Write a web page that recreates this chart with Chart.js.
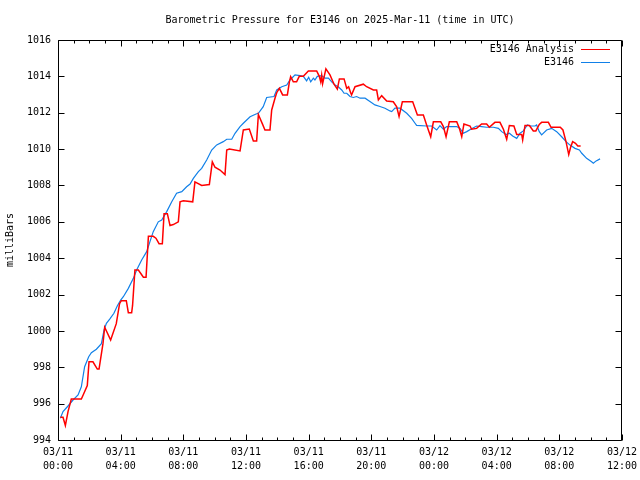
<!DOCTYPE html>
<html>
<head>
<meta charset="utf-8">
<script src="https://cdn.jsdelivr.net/npm/chart.js@4/dist/chart.umd.min.js"></script>
<style>
html,body{margin:0;padding:0;background:#fff;}
#wrap{width:640px;height:480px;position:relative;}
</style>
</head>
<body>
<div id="wrap"><canvas id="c" width="640" height="480"></canvas></div>
<script>
// ---- text ----
const titleText = 'Barometric Pressure for E3146 on 2025-Mar-11 (time in UTC)';
const yAxisLabel = 'milliBars';
const seriesNames = ['E3146 Analysis', 'E3146'];

// ---- axes ----
const xTickLabels = [
  ['03/11','00:00'], ['03/11','04:00'], ['03/11','08:00'], ['03/11','12:00'],
  ['03/11','16:00'], ['03/11','20:00'], ['03/12','00:00'], ['03/12','04:00'],
  ['03/12','08:00'], ['03/12','12:00']
];
const xRangeHours = [0, 36];
const yRange = [994, 1016];

// ---- series: hours since 03/11 00:00 UTC, pressure in mb ----
const analysisHours = [
  0.15,0.32,0.47,0.64,0.85,1.49,1.62,1.87,1.98,2.23,2.51,2.62,2.87,2.98,3.36,3.72,3.93,4.04,4.36,4.49,
  4.70,4.76,4.91,5.13,5.45,5.62,5.77,6.08,6.25,6.45,6.66,6.77,6.98,7.15,7.36,7.68,7.79,8.00,8.60,8.74,
  9.17,9.66,9.85,10.02,10.34,10.66,10.77,10.94,11.62,11.83,12.21,12.47,12.68,12.79,13.04,13.21,13.53,13.64,13.85,13.96,
  14.13,14.34,14.64,14.77,14.85,15.02,15.23,15.40,15.66,15.98,16.51,16.68,16.77,16.83,16.89,17.10,17.36,17.62,17.83,17.96,
  18.26,18.43,18.55,18.68,18.74,18.96,19.49,19.70,20.13,20.34,20.45,20.66,20.98,21.40,21.62,21.77,21.98,22.64,22.94,23.32,
  23.53,23.79,23.96,24.43,24.60,24.77,24.98,25.45,25.62,25.77,25.91,26.30,26.40,26.72,27.04,27.36,27.53,27.89,28.21,28.43,
  28.64,28.81,29.10,29.28,29.60,29.66,29.81,30.09,30.34,30.50,30.72,30.87,31.30,31.47,32.06,32.23,32.43,32.60,32.72,32.85,
  33.03,33.18,33.36
];
const analysisValues = [
  995.25,995.25,994.80,995.56,996.25,996.25,996.50,997.00,998.30,998.30,997.90,997.90,999.30,1000.20,999.50,1000.40,1001.50,1001.66,1001.66,1001.00,
  1001.00,1001.40,1003.35,1003.35,1002.95,1002.95,1005.20,1005.20,1005.10,1004.80,1004.80,1006.45,1006.45,1005.80,1005.85,1006.00,1007.10,1007.16,1007.10,1008.20,
  1008.00,1008.05,1009.30,1009.00,1008.85,1008.60,1009.95,1010.00,1009.90,1011.05,1011.10,1010.45,1010.45,1011.90,1011.40,1011.05,1011.05,1012.15,1012.80,1013.10,
  1013.34,1012.98,1012.98,1013.70,1013.98,1013.70,1013.70,1014.00,1014.00,1014.30,1014.30,1014.00,1013.70,1014.06,1013.60,1014.41,1014.08,1013.57,1013.30,1013.86,
  1013.86,1013.34,1013.43,1013.10,1012.98,1013.43,1013.57,1013.43,1013.25,1013.25,1012.70,1012.94,1012.64,1012.60,1012.33,1011.80,1012.60,1012.60,1011.88,1011.88,
  1011.33,1010.68,1011.50,1011.50,1011.24,1010.68,1011.50,1011.50,1011.14,1010.68,1011.38,1011.27,1011.09,1011.14,1011.38,1011.38,1011.20,1011.47,1011.47,1011.09,
  1010.54,1011.30,1011.27,1010.80,1010.80,1010.50,1011.30,1011.30,1011.00,1011.00,1011.36,1011.47,1011.47,1011.20,1011.20,1011.05,1010.40,1009.70,1010.10,1010.41,
  1010.32,1010.17,1010.17
];

const stationHours = [
  0.15,0.32,0.64,0.96,1.28,1.49,1.70,1.96,2.13,2.45,2.77,2.94,3.09,3.30,3.57,3.79,4.00,4.17,4.49,4.81,
  5.02,5.34,5.66,5.87,6.08,6.40,6.62,6.94,7.26,7.57,7.90,8.21,8.43,8.64,8.96,9.17,9.49,9.81,10.13,10.55,
  10.77,11.09,11.30,11.62,11.83,12.26,12.64,12.79,13.10,13.32,13.79,13.96,14.28,14.60,14.81,15.13,15.45,15.66,15.87,16.00,
  16.13,16.30,16.40,16.55,16.83,17.04,17.26,17.47,17.68,17.89,18.11,18.26,18.43,18.64,18.85,19.06,19.28,19.60,19.91,20.23,
  20.55,20.87,21.19,21.30,21.51,21.83,22.26,22.57,22.79,22.89,23.53,23.85,24.17,24.38,24.60,24.81,25.45,25.66,25.87,26.09,
  26.40,26.72,27.04,27.36,27.79,28.11,28.32,28.60,28.81,29.02,29.28,29.49,29.70,29.96,30.17,30.45,30.55,30.72,30.87,31.19,
  31.51,31.83,32.15,32.43,32.68,33.00,33.28,33.43,33.74,34.06,34.17,34.35,34.60
];
const stationValues = [
  995.20,995.56,995.87,996.20,996.48,996.93,998.03,998.58,998.80,998.99,999.30,1000.05,1000.42,1000.65,1000.97,1001.38,1001.70,1001.88,1002.34,1002.89,
  1003.35,1003.90,1004.36,1004.91,1005.46,1006.00,1006.10,1006.56,1007.10,1007.57,1007.66,1007.93,1008.08,1008.39,1008.76,1008.94,1009.40,1009.95,1010.23,1010.41,
  1010.54,1010.54,1010.87,1011.24,1011.42,1011.78,1011.93,1011.97,1012.33,1012.84,1012.89,1013.25,1013.43,1013.52,1013.80,1014.08,1014.04,1014.00,1013.75,1013.95,
  1013.70,1013.90,1013.80,1014.00,1014.04,1013.90,1013.90,1013.70,1013.52,1013.43,1013.25,1013.07,1013.07,1012.89,1012.84,1012.89,1012.80,1012.80,1012.62,1012.43,
  1012.34,1012.25,1012.10,1012.06,1012.25,1012.25,1011.97,1011.69,1011.42,1011.30,1011.27,1011.27,1011.05,1011.29,1011.10,1011.24,1011.24,1011.14,1010.87,1010.96,
  1011.12,1011.27,1011.24,1011.20,1011.20,1011.14,1010.96,1010.80,1010.87,1010.72,1010.59,1010.87,1011.00,1011.33,1011.27,1011.27,1011.33,1010.96,1010.78,1011.05,
  1011.14,1010.96,1010.68,1010.41,1010.22,1010.04,1009.95,1009.77,1009.49,1009.30,1009.22,1009.35,1009.46
];

const FONT = "'DejaVu Sans Mono', 'Liberation Mono', monospace";

function toPoints(xs, ys) { return xs.map((h, i) => ({ x: h, y: ys[i] })); }

// gnuplot-style frame with inward ticks (positions from the chart's scales)
const gnuFrame = {
  id: 'gnuFrame',
  afterDatasetsDraw(chart) {
    const { ctx, chartArea: a, scales: { x, y } } = chart;
    const L = Math.round(a.left) + 0.5, R = Math.round(a.right) - 0.5;
    const T = Math.round(a.top) + 0.5, B = Math.round(a.bottom) + 0.5;
    ctx.save();
    ctx.strokeStyle = '#000';
    ctx.lineWidth = 1;
    ctx.beginPath();
    ctx.rect(L, T, R - L, B - T);
    // y ticks (major only)
    y.ticks.forEach(t => {
      const py = Math.round(y.getPixelForValue(t.value)) + 0.5;
      ctx.moveTo(L, py); ctx.lineTo(L + 6, py);
      ctx.moveTo(R, py); ctx.lineTo(R - 6, py);
    });
    // x ticks: major every 4h, minor every hour
    for (let h = xRangeHours[0]; h <= xRangeHours[1]; h++) {
      const len = (h % 4 === 0) ? 6 : 3;
      const px = Math.round(x.getPixelForValue(h)) + 0.5;
      ctx.moveTo(px, B); ctx.lineTo(px, B - len);
      ctx.moveTo(px, T); ctx.lineTo(px, T + len);
    }
    ctx.stroke();
    ctx.restore();
  },
  afterDraw(chart) {
    const { ctx, chartArea: a } = chart;
    ctx.save();
    ctx.font = '10px ' + FONT;
    ctx.textAlign = 'right';
    ctx.textBaseline = 'middle';
    chart.data.datasets.forEach((ds, i) => {
      const yy = Math.round(a.top + 9 + i * 13) + 0.5;
      ctx.fillStyle = '#000';
      ctx.fillText(ds.label, a.right - 48, yy);
      ctx.strokeStyle = ds.borderColor;
      ctx.lineWidth = 1;
      ctx.beginPath();
      ctx.moveTo(a.right - 41, yy);
      ctx.lineTo(a.right - 12, yy);
      ctx.stroke();
    });
    ctx.restore();
  }
};

new Chart(document.getElementById('c'), {
  type: 'line',
  data: {
    datasets: [
      {
        label: seriesNames[0],
        data: toPoints(analysisHours, analysisValues),
        borderColor: '#ff0000',
        borderWidth: 1.5,
        pointRadius: 0,
        tension: 0,
        fill: false
      },
      {
        label: seriesNames[1],
        data: toPoints(stationHours, stationValues),
        borderColor: '#1180e8',
        borderWidth: 1.2,
        pointRadius: 0,
        tension: 0,
        fill: false
      }
    ]
  },
  options: {
    responsive: false,
    animation: false,
    devicePixelRatio: 1,
    layout: { padding: { left: 0, right: 18, top: 0, bottom: 0 } },
    plugins: {
      legend: { display: false },
      tooltip: { enabled: false },
      title: {
        display: true,
        text: titleText,
        fullSize: false,
        color: '#000',
        font: { family: FONT, size: 10, weight: 'normal', lineHeight: 1.2 },
        padding: { top: 14, bottom: 14 }
      }
    },
    scales: {
      x: {
        type: 'linear',
        min: xRangeHours[0],
        max: xRangeHours[1],
        grid: { display: false, drawTicks: false },
        border: { display: false },
        afterFit(scale) { scale.height = 40; scale.paddingLeft = 0; scale.paddingRight = 0; },
        ticks: {
          stepSize: 4,
          autoSkip: false,
          maxRotation: 0,
          minRotation: 0,
          padding: 5,
          color: '#000',
          font: { family: FONT, size: 10, lineHeight: 1.4 },
          callback: (v, i) => xTickLabels[i]
        }
      },
      y: {
        type: 'linear',
        min: yRange[0],
        max: yRange[1],
        grid: { display: false, drawTicks: false },
        border: { display: false },
        afterFit(scale) { scale.width = 58; },
        title: {
          display: true,
          text: yAxisLabel,
          color: '#000',
          font: { family: FONT, size: 10, lineHeight: 1.2 },
          padding: { top: 4, bottom: 0 }
        },
        ticks: {
          stepSize: 2,
          padding: 7,
          color: '#000',
          font: { family: FONT, size: 10 },
          callback: v => String(v)
        }
      }
    }
  },
  plugins: [gnuFrame]
});
</script>
</body>
</html>
